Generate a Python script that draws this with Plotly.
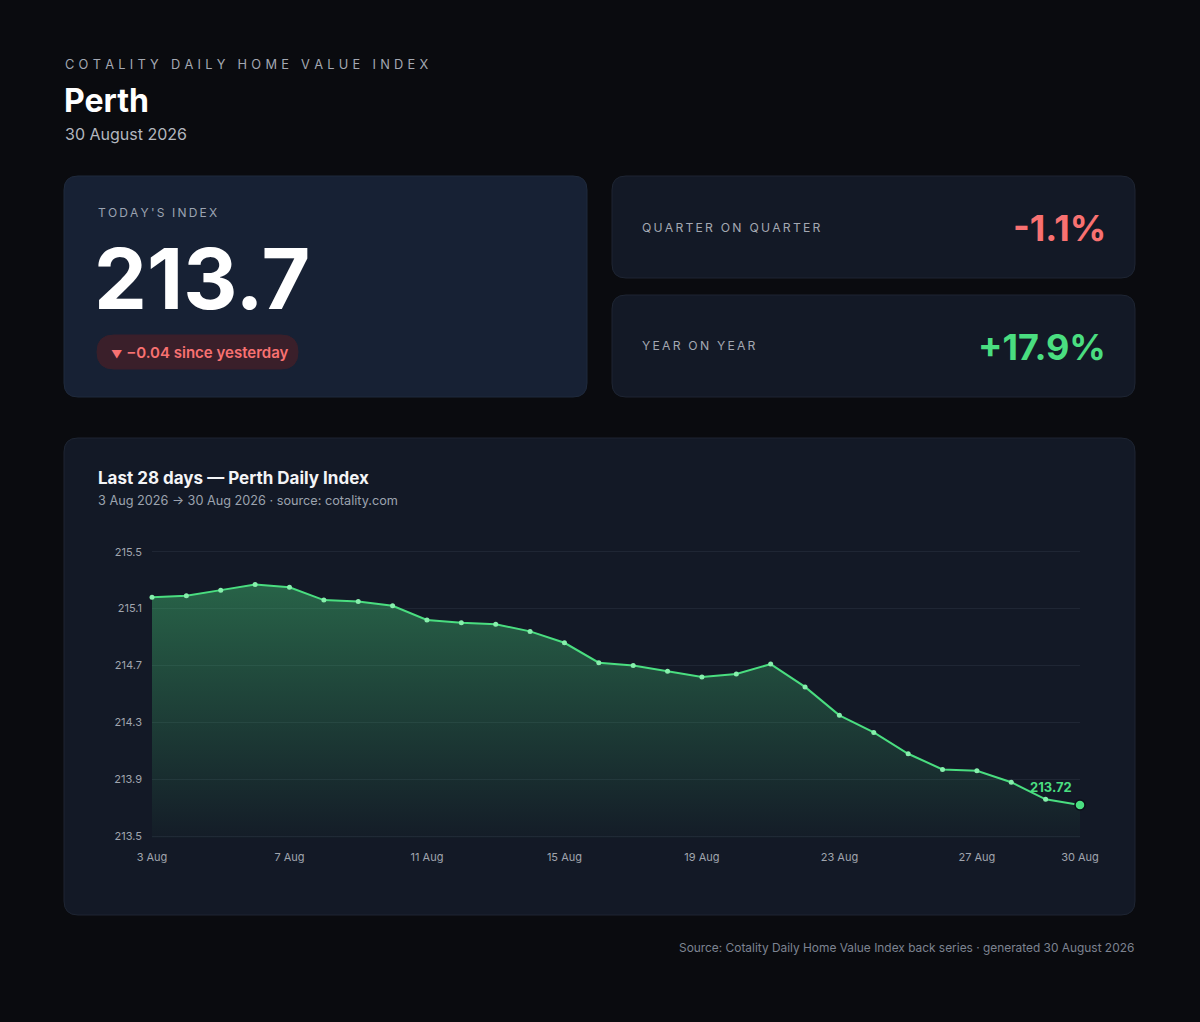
import pandas as pd
import plotly.graph_objects as go

W, H = 1200, 1022

# daily index, 3 Aug -> 30 Aug 2026
dates = pd.date_range("2026-08-03", "2026-08-30", freq="D")
index_values = [215.18, 215.19, 215.23, 215.27, 215.25, 215.16, 215.15, 215.12,
                215.02, 215.00, 214.99, 214.94, 214.86, 214.72, 214.70, 214.66,
                214.62, 214.64, 214.71, 214.55, 214.35, 214.23, 214.08, 213.97,
                213.96, 213.88, 213.76, 213.72]

y_ticks = [213.5, 213.9, 214.3, 214.7, 215.1, 215.5]
x_tick_days = ["2026-08-03", "2026-08-07", "2026-08-11", "2026-08-15",
               "2026-08-19", "2026-08-23", "2026-08-27", "2026-08-30"]
x_tick_labels = ["3 Aug", "7 Aug", "11 Aug", "15 Aug", "19 Aug", "23 Aug", "27 Aug", "30 Aug"]

today_value = "213.7"
daily_change = "−0.04"
qoq_change = "-1.1%"
yoy_change = "+17.9%"

GREEN = "#4ade80"
RED = "#f87171"
FONT = "Inter"


def px(x):
    return x / W


def py(y):
    return 1 - y / H


def spaced(s, gap="\u2009"):
    # fake letter-spacing, plotly has no letter-spacing option
    return gap.join(s)


def rounded_rect(x0, y0, x1, y1, r, fill, line=None):
    p = (f"M {px(x0 + r)},{py(y0)} L {px(x1 - r)},{py(y0)} "
         f"Q {px(x1)},{py(y0)} {px(x1)},{py(y0 + r)} "
         f"L {px(x1)},{py(y1 - r)} Q {px(x1)},{py(y1)} {px(x1 - r)},{py(y1)} "
         f"L {px(x0 + r)},{py(y1)} Q {px(x0)},{py(y1)} {px(x0)},{py(y1 - r)} "
         f"L {px(x0)},{py(y0 + r)} Q {px(x0)},{py(y0)} {px(x0 + r)},{py(y0)} Z")
    return dict(type="path", path=p, xref="paper", yref="paper", layer="below",
                fillcolor=fill, line=dict(color=line or fill, width=1))


def label(x, y, text, size, color, weight=400, xanchor="left"):
    return dict(x=px(x), y=py(y), xref="paper", yref="paper", text=text,
                showarrow=False, xanchor=xanchor, yanchor="middle",
                font=dict(family=FONT, size=size, color=color, weight=weight))


fig = go.Figure()

fig.add_trace(go.Scatter(
    x=dates, y=index_values, mode="lines+markers",
    line=dict(color=GREEN, width=2),
    marker=dict(size=5, color="#86efac"),
    fill="tozeroy",
    fillgradient=dict(type="vertical", start=213.5, stop=215.3,
                      colorscale=[[0, "rgba(74,222,128,0.02)"], [1, "rgba(74,222,128,0.38)"]]),
    cliponaxis=False, hoverinfo="x+y", showlegend=False,
))
fig.add_trace(go.Scatter(
    x=dates[-1:], y=index_values[-1:], mode="markers",
    marker=dict(size=10, color=GREEN, line=dict(color="#0b0f17", width=1.5)),
    cliponaxis=False, showlegend=False, hoverinfo="skip",
))

shapes = [
    rounded_rect(64, 176, 587, 397, 14, "#172134", "#1f2a3c"),
    rounded_rect(612, 176, 1135, 278, 14, "#131926", "#1e2533"),
    rounded_rect(612, 295, 1135, 397, 14, "#131926", "#1e2533"),
    rounded_rect(64, 438, 1135, 915, 14, "#131926", "#1e2533"),
    rounded_rect(97, 335, 298, 369, 17, "#3a1f2a"),
]

pill_text = f"<span style='font-size:11px'>▼</span> {daily_change} since yesterday"

annotations = [
    label(63, 64, spaced("COTALITY DAILY HOME VALUE INDEX", "\u2004"), 12.8, "#a3a8b2"),
    label(62, 101, "Perth", 32, "#ffffff", 700),
    label(63, 134, "30 August 2026", 16, "#b3b7bf"),
    label(96, 212, spaced("TODAY'S INDEX"), 12, "#9ba3b1"),
    label(92, 278, today_value, 84, "#ffffff", 700),
    label(109, 352, pill_text, 15, RED, 600),
    label(640, 227, spaced("QUARTER ON QUARTER"), 12.2, "#a3a8b2"),
    label(1108, 228, qoq_change, 36, RED, 700, "right"),
    label(640, 346, spaced("YEAR ON YEAR"), 12.2, "#a3a8b2"),
    label(1108, 347, yoy_change, 36, GREEN, 700, "right"),
    label(96, 478, "Last 28 days — Perth Daily Index", 17, "#f3f4f6", 700),
    label(96, 500, "3 Aug 2026 → 30 Aug 2026 · source: cotality.com", 12.7, "#9ca3af"),
    label(1136, 947, "Source: Cotality Daily Home Value Index back series · generated 30 August 2026",
          11.9, "#7d8391", 400, "right"),
    dict(x=dates[-1], y=index_values[-1], xref="x", yref="y",
         text=f"{index_values[-1]:.2f}", showarrow=False,
         xanchor="right", yanchor="bottom", xshift=-6, yshift=8,
         font=dict(family=FONT, size=13, color=GREEN, weight=700)),
]

fig.update_layout(
    width=W, height=H,
    margin=dict(l=0, r=0, t=0, b=0, autoexpand=False),
    paper_bgcolor="#0a0b0f",
    plot_bgcolor="rgba(0,0,0,0)",
    font=dict(family=FONT, color="#9ca3af"),
    shapes=shapes,
    annotations=annotations,
    hovermode="closest",
    xaxis=dict(
        domain=[px(152), px(1080)],
        range=[dates[0], dates[-1]],
        tickvals=x_tick_days, ticktext=x_tick_labels,
        showgrid=False, zeroline=False, showline=False, automargin=False,
        tickfont=dict(family=FONT, size=11, color="#a0a5ae"),
        ticks="", ticklabelstandoff=11,
    ),
    yaxis=dict(
        domain=[py(838), py(550)],
        range=[213.488, 215.512],
        tickvals=y_ticks, ticktext=[f"{v:.1f}" for v in y_ticks],
        showgrid=True, gridcolor="#1f2634", gridwidth=1,
        zeroline=False, showline=False, automargin=False,
        tickfont=dict(family=FONT, size=11, color="#a0a5ae"),
        ticks="", ticklabelstandoff=9,
    ),
)

fig.write_html("out.html", config={"displayModeBar": False},
               post_script="document.body.style.margin='0';document.body.style.overflow='hidden';")
